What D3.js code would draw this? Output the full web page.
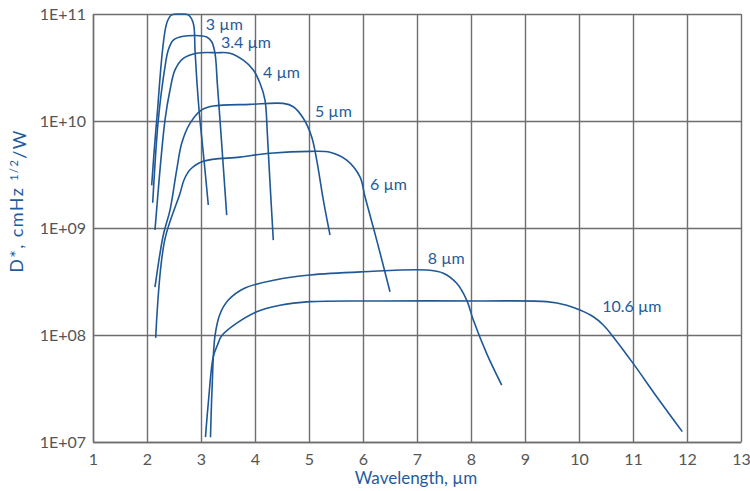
<!DOCTYPE html>
<html>
<head>
<meta charset="utf-8">
<script src="https://cdn.jsdelivr.net/npm/d3@7"></script>
<style>
  body { margin: 0; background: #fff; }
  svg text { font-family: Lato, "Open Sans", sans-serif; }
  .grid line { stroke: #6e6e6e; stroke-width: 1.4; }
  .grid path { stroke: #6e6e6e; stroke-width: 1.4; }
  .grid text { fill: #555; font-size: 16px; }
  .curve { fill: none; stroke: #1f5896; stroke-width: 1.6; }
  .lbl { fill: #1f5c9c; font-size: 16px; }
</style>
</head>
<body>
<svg id="chart" width="750" height="491"></svg>
<script>
// D* vs wavelength curves, one per cutoff wavelength

const xTicks = [1, 2, 3, 4, 5, 6, 7, 8, 9, 10, 11, 12, 13];
const yTicks = [1e7, 1e8, 1e9, 1e10, 1e11];

const curveNames = ["3 µm", "3.4 µm", "4 µm", "5 µm", "6 µm", "8 µm", "10.6 µm"];

// [wavelength µm, D*]
const c3 = [[2.087, 2.5e9], [2.18, 1.02e10], [2.365, 8.2e10], [2.457, 9.8e10], [2.611, 1.0e11],
  [2.765, 9.8e10], [2.857, 8.2e10], [2.889, 4.6e10], [2.926, 2.26e10], [2.972, 1.14e10],
  [3.056, 4.3e9], [3.135, 1.64e9]];
const c34 = [[2.106, 1.72e9], [2.209, 1.02e10], [2.333, 3.2e10], [2.394, 4.6e10], [2.487, 5.7e10],
  [2.672, 6.2e10], [3.106, 6.1e10], [3.198, 5.5e10], [3.259, 4.3e10], [3.302, 2.25e10],
  [3.352, 1.02e10], [3.417, 3.5e9], [3.476, 1.32e9]];
const c4 = [[2.148, 9.6e8], [2.333, 1.02e10], [2.426, 1.95e10], [2.519, 3.0e10], [2.672, 3.85e10],
  [2.92, 4.3e10], [3.291, 4.35e10], [3.537, 4.3e10], [3.783, 3.7e10], [3.969, 3.0e10],
  [4.093, 2.25e10], [4.185, 1.57e10], [4.228, 7.7e9], [4.278, 2.64e9], [4.339, 7.7e8]];
const c5 = [[2.148, 2.8e8], [2.302, 8.6e8], [2.426, 1.47e9], [2.55, 3.5e9], [2.643, 6.2e9],
  [2.796, 9.5e9], [3.013, 1.27e10], [3.228, 1.38e10], [3.907, 1.43e10], [4.524, 1.46e10],
  [4.709, 1.36e10], [4.894, 1.06e10], [5.05, 7.1e9], [5.143, 4.3e9], [5.265, 1.83e9], [5.389, 8.6e8]];
const c6 = [[2.161, 9.4e7], [2.328, 7.7e8], [2.611, 2.1e9], [2.685, 2.81e9], [2.796, 3.5e9],
  [3.043, 4.2e9], [3.722, 4.6e9], [4.278, 5.0e9], [5.019, 5.2e9], [5.389, 5.1e9], [5.698, 4.3e9],
  [5.944, 3.0e9], [6.037, 1.96e9], [6.254, 7.7e8], [6.5, 2.54e8]];
const c8 = [[3.176, 1.11e7], [3.204, 3.06e7], [3.259, 9.8e7], [3.352, 1.57e8], [3.506, 2.12e8],
  [3.815, 2.75e8], [4.37, 3.27e8], [5.019, 3.64e8], [6.006, 3.9e8], [7.18, 4.05e8],
  [7.487, 3.78e8], [7.735, 3.04e8], [7.92, 2.12e8], [8.043, 1.38e8], [8.291, 6.7e7], [8.569, 3.4e7]];
const c106 = [[3.083, 1.11e7], [3.135, 2.31e7], [3.228, 6.3e7], [3.307, 8.1e7], [3.38, 9.8e7],
  [3.661, 1.29e8], [4.031, 1.65e8], [4.463, 1.9e8], [5.019, 2.05e8], [6.315, 2.08e8],
  [8.167, 2.08e8], [9.402, 2.05e8], [9.772, 1.9e8], [10.019, 1.71e8], [10.265, 1.48e8],
  [10.45, 1.24e8], [10.635, 9.6e7], [11.006, 5.4e7], [11.439, 2.65e7], [11.913, 1.25e7]];

// where each curve name sits, in data units
const labelAnchor = [[3.09, 8.1e10], [3.37, 5.4e10], [4.15, 2.87e10], [5.11, 1.24e10],
  [6.13, 2.58e9], [7.2, 5.25e8], [10.43, 1.87e8]];

const curves = [c3, c34, c4, c5, c6, c8, c106];

const svg = d3.select("#chart");
const plotL = 93, plotR = 741, plotT = 14, plotB = 442;

const x = d3.scaleLinear().domain([1, 13]).range([plotL, plotR]);
const y = d3.scaleLog().domain([1e7, 1e11]).range([plotB, plotT]);

// grid + tick labels
svg.append("g")
    .attr("class", "grid")
    .attr("transform", `translate(0,${plotB})`)
    .call(d3.axisBottom(x).tickValues(xTicks).tickFormat(d3.format("d"))
        .tickSize(-(plotB - plotT)).tickSizeOuter(0).tickPadding(12));

svg.append("g")
    .attr("class", "grid")
    .attr("transform", `translate(${plotL},0)`)
    .call(d3.axisLeft(y).tickValues(yTicks)
        .tickFormat(d => "1E+" + String(Math.round(Math.log10(d))).padStart(2, "0"))
        .tickSize(-(plotR - plotL)).tickSizeOuter(0).tickPadding(7));

// curves
const line = d3.line()
    .x(d => x(d[0]))
    .y(d => y(d[1]))
    .curve(d3.curveCatmullRom.alpha(0.5));

svg.selectAll("path.curve")
    .data(curves)
    .enter()
    .append("path")
    .attr("class", "curve")
    .attr("d", line);

svg.selectAll("text.lbl")
    .data(curveNames)
    .enter()
    .append("text")
    .attr("class", "lbl")
    .attr("x", (d, i) => x(labelAnchor[i][0]))
    .attr("y", (d, i) => y(labelAnchor[i][1]))
    .attr("dy", "0.36em")
    .text(d => d);

// axis titles
svg.append("text")
    .attr("x", 416)
    .attr("y", 484)
    .attr("text-anchor", "middle")
    .style("fill", "#1f5c9c")
    .style("font-size", "17px")
    .text("Wavelength, µm");

const yTitle = svg.append("text")
    .attr("transform", "translate(23,201) rotate(-90)")
    .attr("text-anchor", "middle")
    .style("fill", "#1f5c9c")
    .style("font-size", "18px")
    .style("letter-spacing", "1.4px");
yTitle.append("tspan").text("D*, cmHz ");
yTitle.append("tspan").attr("dy", "-0.45em").style("font-size", "11px").text("1/2");
yTitle.append("tspan").attr("dy", "0.45em").text("/W");
</script>
</body>
</html>
